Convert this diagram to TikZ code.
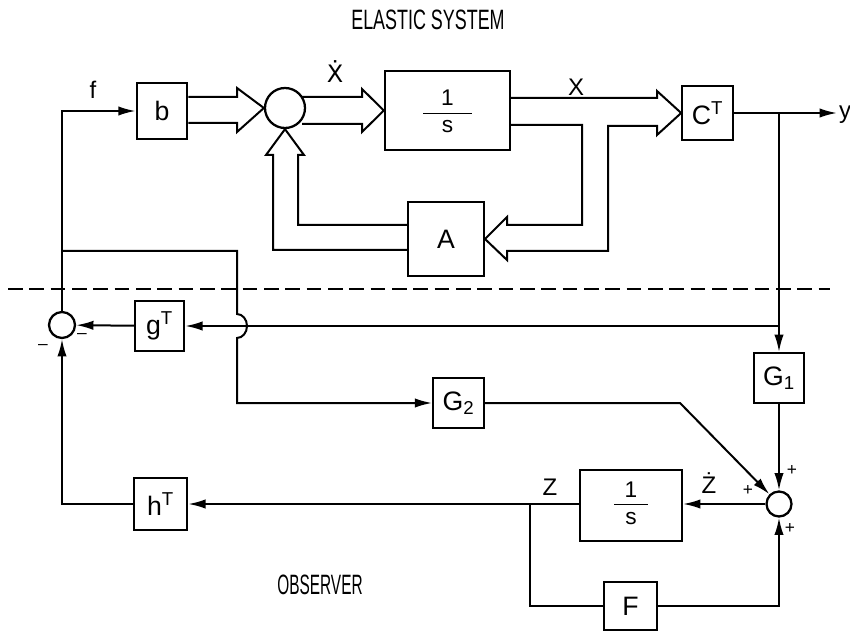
\documentclass[tikz,border=0pt]{standalone}
\usepackage{fontspec}
\setmainfont{Liberation Sans}
\newfontfamily\dvfont{DejaVu Sans}
\usetikzlibrary{arrows.meta,calc}
\begin{document}
\begin{tikzpicture}[x=0.75pt,y=-0.75pt,
  line width=1.5pt,
  blk/.style={draw,line width=1.5pt,inner sep=0pt,font=\fontsize{20}{23}\selectfont},
  sumc/.style={draw,circle,line width=1.7pt,inner sep=0pt},
  lbl/.style={font=\fontsize{18}{20}\selectfont,inner sep=0pt},
  fracn/.style={font=\fontsize{17}{19}\selectfont,inner sep=0pt},
  pm/.style={font=\fontsize{13}{15}\selectfont,inner sep=0pt},
  hollow/.style={line width=1.5pt,line join=miter},
  arr/.style={-{Latex[length=13pt,width=7pt]}},
  sep/.style={line width=1.3pt,dash pattern=on 11pt off 5pt},
  title/.style={font=\fontsize{21}{24}\selectfont,inner sep=0pt}]
\useasboundingbox (0,0) rectangle (850,631);

% titles
\node[title] (t1) at (428,20) {\scalebox{0.64}[1]{ELASTIC SYSTEM}};
\node[title] (t2) at (320,585) {\scalebox{0.55}[1]{OBSERVER}};

% blocks
\node[blk,minimum width=38pt,minimum height=42pt] (b) at (162,111) {b};
\node[sumc,minimum size=30pt] (s1) at (285,108) {};
\node[blk,minimum width=94pt,minimum height=59pt] (i1) at (447.5,110.5) {};
\node[blk,minimum width=57pt,minimum height=56pt] (A) at (446,239) {A};
\node[blk,minimum width=38pt,minimum height=40.5pt] (CT) at (707.5,113) {C\textsuperscript{T}};
\node[sumc,minimum size=19.5pt] (s2) at (62,325) {};
\node[blk,minimum width=37pt,minimum height=37.5pt] (gT) at (159.5,326) {g\textsuperscript{T}};
\node[blk,minimum width=40pt,minimum height=39pt] (hT) at (160.5,504) {h\textsuperscript{T}};
\node[blk,minimum width=38pt,minimum height=38pt] (G2) at (458.5,403) {G\textsubscript{2}};
\node[blk,minimum width=38pt,minimum height=37.5pt] (G1) at (779,378) {G\textsubscript{1}};
\node[sumc,minimum size=18.75pt] (s3) at (779,504) {};
\node[blk,minimum width=76.5pt,minimum height=53pt] (i2) at (631,505.5) {};
\node[blk,minimum width=40pt,minimum height=36pt] (F) at (630.5,606) {F};

% fractions 1/s
\node[fracn] (i1n) at ($(i1.center)+(0,-13)$) {1};
\draw[line width=1.2pt] ($(i1.center)+(-24.5,3)$) -- ($(i1.center)+(24.5,3)$);
\node[fracn] (i1d) at ($(i1.center)+(0,16)$) {s};
\node[fracn] (i2n) at ($(i2.center)+(0,-16)$) {1};
\draw[line width=1.2pt] ($(i2.center)+(-17,-1)$) -- ($(i2.center)+(17,-1)$);
\node[fracn] (i2d) at ($(i2.center)+(0,13)$) {s};

% labels
\node[lbl] (lf) at (93,90) {f};
\node[lbl] (lxd) at (335,72) {\dvfont Ẋ};
\node[lbl] (lx) at (576,87) {X};
\node[lbl] (ly) at (845,115) {y};
\node[lbl] (lz) at (550,487) {Z};
\node[lbl] (lzd) at (709,483) {Ż};
\node[pm] (p1) at (792,470) {+};
\node[pm] (p2) at (748,490) {+};
\node[pm] (p3) at (790,528) {+};
\node[pm] (m1) at (82,336) {–};
\node[pm] (m2) at (43,347) {–};

% separator
\draw[sep] (8,289) -- (830,289);

% hollow (vector) arrows of the elastic system
\draw[hollow] (b.east |- 0,97) -- (237,97) -- (237,88) -- (s1.west) -- (237,132) -- (237,123) -- (b.east |- 0,123);
\draw[hollow] ($(s1)+(17,-11)$) -- (362,97) -- (362,89) -- (i1.west) -- (362,132) -- (362,124) -- ($(s1)+(17,16)$);
\draw[hollow] (A.west |- 0,225) -- (298,225) -- (298,155) -- (304,155) -- (s1.south) -- (266,155) -- (273,155) -- (273,250) -- (A.west |- 0,250);
\draw[hollow] (i1.east |- 0,98) -- (657,98) -- (657,91) -- (CT.west) -- (657,135) -- (657,126) -- (608,126) -- (608,251) -- (507,251) -- (507,260) -- (A.east) -- (507,217) -- (507,225) -- (582,225) -- (582,125) -- (i1.east |- 0,125);

% scalar connectors
\coordinate (yend) at (837,113);
\draw[arr] (CT) -- (yend);
\coordinate (yj) at (G1 |- CT);
\draw[arr] (yj) -- (G1);
\draw[arr] (G1) -- (s3);
\draw[arr] (s2) |- (b);
\coordinate (j1) at (62,251);
\coordinate (hopT) at (237,314);
\coordinate (hopB) at (237,338);
\draw[arr] (j1) -| (hopT) arc[start angle=-90,end angle=90,x radius=10,y radius=12] -- (hopB |- G2) -- (G2);
\draw[arr] (G1 |- gT) -- (gT);
\draw[arr] (gT) -- (s2);
\coordinate (g2c) at (680,403);
\draw[arr] (G2) -- (g2c) -- (s3);
\draw[arr] (s3) -- (i2.east |- s3);
\draw[arr] (i2.west |- hT) -- (hT);
\draw[arr] (hT) -| (s2);
\coordinate (zj) at (530,504);
\draw (zj) |- (F);
\draw[arr] (F) -| (s3);
\end{tikzpicture}
\end{document}
